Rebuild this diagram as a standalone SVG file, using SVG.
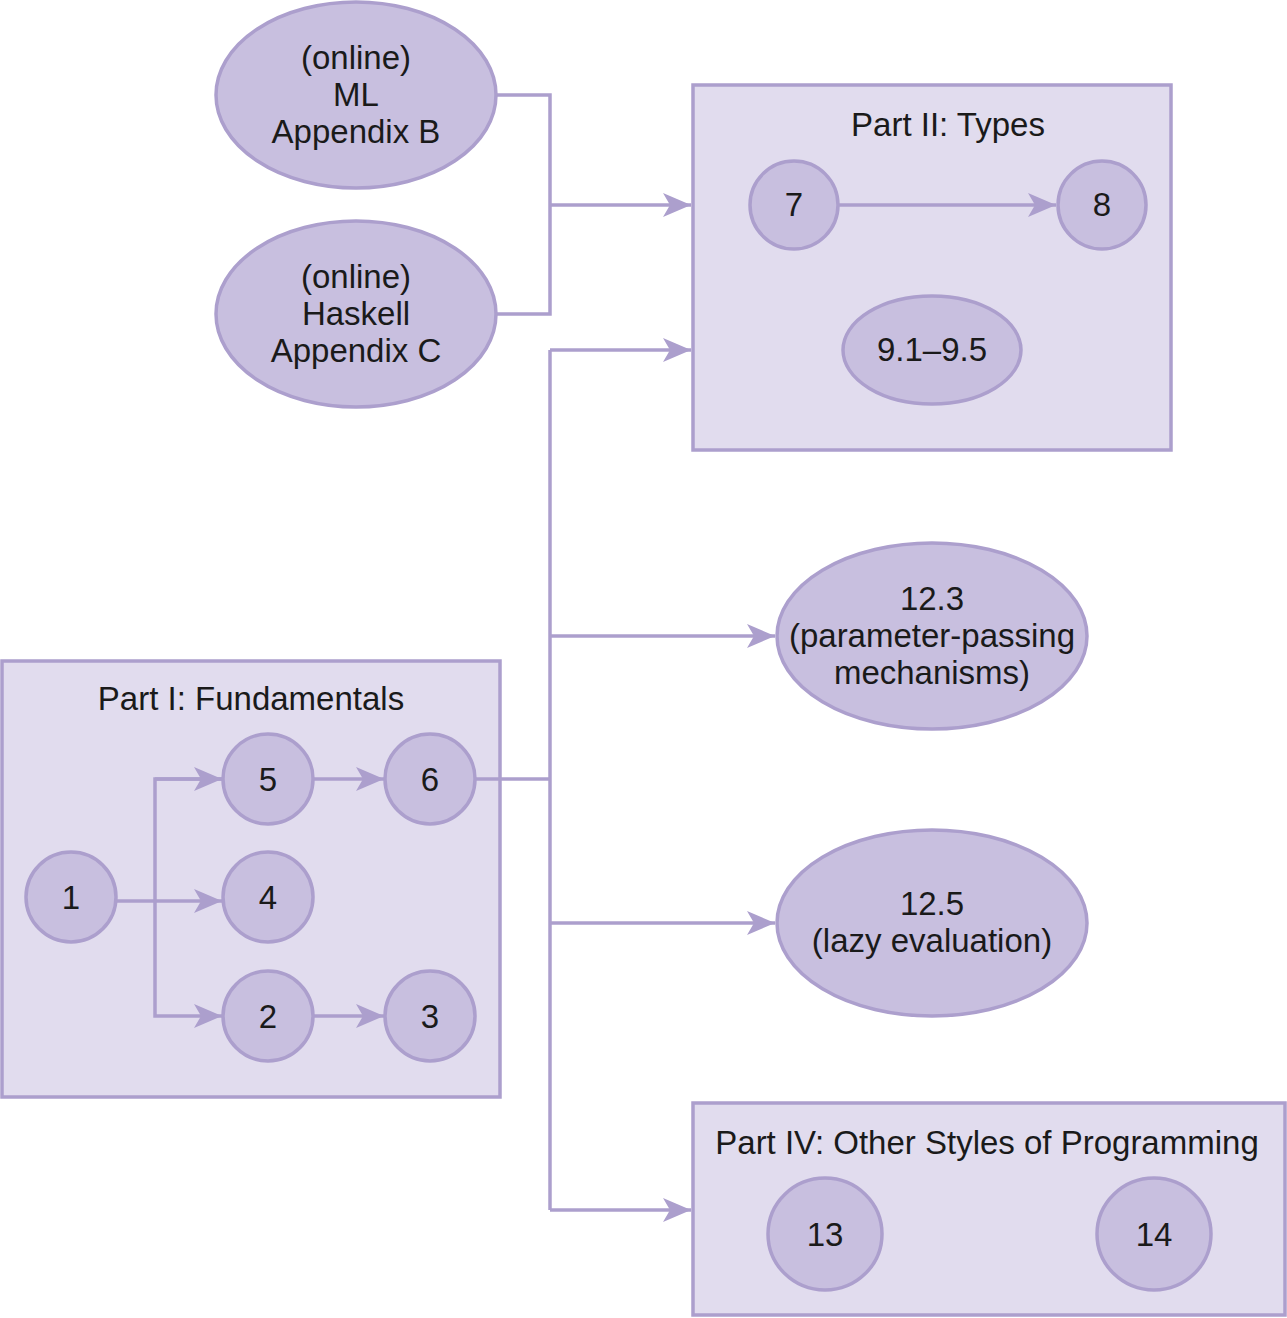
<svg xmlns="http://www.w3.org/2000/svg" width="1287" height="1318" viewBox="0 0 1287 1318">
<style>
.box{fill:#e1dcee;stroke:#ac9fcd;stroke-width:3.5}
.nd{fill:#c8bfdf;stroke:#ac9fcd;stroke-width:3.5}
.ln{fill:none;stroke:#ac9fcd;stroke-width:3.5}
text{font-family:"Liberation Sans",Arial,sans-serif;font-size:33px;fill:#1a1a1a;text-anchor:middle}
</style>
<defs>
<marker id="ah" markerUnits="userSpaceOnUse" markerWidth="30" markerHeight="26" viewBox="0 -13 30 26" refX="28" refY="0" orient="auto">
<path d="M0,-12 L28,0 L0,12 L7,0 z" fill="#ac9fcd"/>
</marker>
</defs>
<g id="part2">
<rect class="box" x="693" y="85" width="478" height="365"/>
<text x="948" y="136">Part II: Types</text>
</g>
<g id="part1">
<rect class="box" x="2" y="661" width="498" height="436"/>
<text x="251" y="710">Part I: Fundamentals</text>
</g>
<g id="part4">
<rect class="box" x="693" y="1103" width="592" height="212"/>
<text x="987" y="1154">Part IV: Other Styles of Programming</text>
</g>
<g id="connectors">
<path class="ln" d="M496,95 H550 V314 H496"/>
<path class="ln" d="M550,205 H691" marker-end="url(#ah)"/>
<path class="ln" d="M475,779 H550"/>
<path class="ln" d="M550,350 V1210"/>
<path class="ln" d="M550,350 H691" marker-end="url(#ah)"/>
<path class="ln" d="M550,636 H775" marker-end="url(#ah)"/>
<path class="ln" d="M550,923 H775" marker-end="url(#ah)"/>
<path class="ln" d="M550,1210 H691" marker-end="url(#ah)"/>
<path class="ln" d="M838,205 H1056" marker-end="url(#ah)"/>
<path class="ln" d="M116,901 H222" marker-end="url(#ah)"/>
<path class="ln" d="M222,779 H155 V1016 H222" marker-end="url(#ah)"/>
<path class="ln" d="M155,779 H222" marker-end="url(#ah)"/>
<path class="ln" d="M313,779 H384" marker-end="url(#ah)"/>
<path class="ln" d="M313,1016 H384" marker-end="url(#ah)"/>
</g>
<g id="ml"><ellipse class="nd" cx="356" cy="95" rx="140" ry="93"/><text x="356" y="69">(online)</text><text x="356" y="106">ML</text><text x="356" y="143">Appendix B</text></g>
<g id="haskell"><ellipse class="nd" cx="356" cy="314" rx="140" ry="93"/><text x="356" y="288">(online)</text><text x="356" y="325">Haskell</text><text x="356" y="362">Appendix C</text></g>
<g id="n7"><circle class="nd" cx="794" cy="205" r="44"/><text x="794" y="216">7</text></g>
<g id="n8"><circle class="nd" cx="1102" cy="205" r="44"/><text x="1102" y="216">8</text></g>
<g id="n9"><ellipse class="nd" cx="932" cy="350" rx="89" ry="54"/><text x="932" y="361">9.1–9.5</text></g>
<g id="n123"><ellipse class="nd" cx="932" cy="636" rx="155" ry="93"/><text x="932" y="610">12.3</text><text x="932" y="647">(parameter-passing</text><text x="932" y="684">mechanisms)</text></g>
<g id="n125"><ellipse class="nd" cx="932" cy="923" rx="155" ry="93"/><text x="932" y="915">12.5</text><text x="932" y="952">(lazy evaluation)</text></g>
<g id="n1"><circle class="nd" cx="71" cy="897" r="45"/><text x="71" y="909">1</text></g>
<g id="n5"><circle class="nd" cx="268" cy="779" r="45"/><text x="268" y="791">5</text></g>
<g id="n6"><circle class="nd" cx="430" cy="779" r="45"/><text x="430" y="791">6</text></g>
<g id="n4"><circle class="nd" cx="268" cy="897" r="45"/><text x="268" y="909">4</text></g>
<g id="n2"><circle class="nd" cx="268" cy="1016" r="45"/><text x="268" y="1028">2</text></g>
<g id="n3"><circle class="nd" cx="430" cy="1016" r="45"/><text x="430" y="1028">3</text></g>
<g id="n13"><ellipse class="nd" cx="825" cy="1234" rx="57" ry="56"/><text x="825" y="1246">13</text></g>
<g id="n14"><ellipse class="nd" cx="1154" cy="1234" rx="57" ry="56"/><text x="1154" y="1246">14</text></g>
</svg>
